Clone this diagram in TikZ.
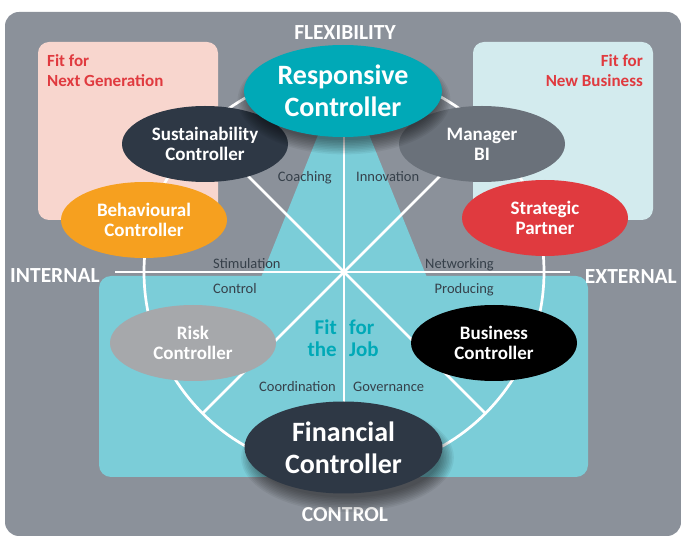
\documentclass[tikz,border=0pt]{standalone}
\usepackage{fontspec}
\setmainfont{Carlito}
\usetikzlibrary{calc,shapes.geometric}
\definecolor{panel}{HTML}{8B919A}
\definecolor{nextgen}{HTML}{F8D6CE}
\definecolor{newbiz}{HTML}{D3EBEE}
\definecolor{jobfit}{HTML}{7BCDD8}
\definecolor{teal}{HTML}{00A9B7}
\definecolor{navy}{HTML}{2E3845}
\definecolor{slate}{HTML}{6A717A}
\definecolor{amber}{HTML}{F6A01F}
\definecolor{crimson}{HTML}{E03A3F}
\definecolor{silver}{HTML}{A6A8AB}
\definecolor{ink}{HTML}{36404A}

\begin{document}
\begin{tikzpicture}[x=1pt,y=-1pt,
     ctl/.style={ellipse,minimum width=166pt,minimum height=76pt,inner sep=0pt,align=center,text=white,
       font=\fontsize{19}{20}\selectfont\bfseries},
     big/.style={ctl,minimum width=198pt,minimum height=92pt,font=\fontsize{28}{32}\selectfont\bfseries},
     lbl/.style={text=ink,inner sep=0pt,font=\fontsize{14.5}{16}\selectfont},
     axis/.style={text=white,inner sep=0pt,font=\fontsize{21.5}{22}\selectfont\bfseries},
     fitfor/.style={text=crimson,inner sep=0pt,font=\fontsize{17}{18}\selectfont\bfseries},
     job/.style={text=teal,inner sep=0pt,font=\fontsize{21}{22}\selectfont\bfseries},
     spoke/.style={draw=white,line width=2.7pt}]
  \useasboundingbox (0,0) rectangle (681,537);

  % panels
  \fill[panel,rounded corners=14pt] (5,12) rectangle (681,536);
  \fill[nextgen,rounded corners=11pt] (38,42) rectangle (218,220);
  \fill[newbiz,rounded corners=11pt] (473,42) rectangle (653,220);
  \fill[jobfit,rounded corners=12pt] (99,276) rectangle (588,477);
  \fill[jobfit] (332,100) -- (355,100) -- (428,280) -- (260,280) -- cycle;

  % wheel
  \coordinate (o) at (344,272);
  \foreach \a in {45,90,135,225,270,315}
    \coordinate (r\a) at ($(o)+(\a:200)$);
  \coordinate (w) at (115,272);
  \coordinate (e) at (570,272);
  \draw[spoke] (o) circle[radius=200];
  \draw[spoke] (w) -- (e);
  \draw[spoke] (r90) -- (r270);
  \draw[spoke] (r45) -- (r225);
  \draw[spoke] (r135) -- (r315);

  % roles between the spokes
  \node[lbl,anchor=base east] (coach) at (332,182) {Coaching};
  \node[lbl,anchor=base west] (innov) at (356,182) {Innovation};
  \node[lbl,anchor=base west] (stim) at (213,269) {Stimulation};
  \node[lbl,anchor=base east] (netw) at (494,269) {Networking};
  \node[lbl,anchor=base west] (contr) at (213,294) {Control};
  \node[lbl,anchor=base east] (prod) at (494,294) {Producing};
  \node[lbl,anchor=base east] (coord) at (336,392) {Coordination};
  \node[lbl,anchor=base west] (gov) at (353,392) {Governance};

  \node[job,anchor=base east] (fit) at (337,335) {Fit};
  \node[job,anchor=base west] (for) at (349,335) {for};
  \node[job,anchor=base east] (the) at (337,357) {the};
  \node[job,anchor=base west] (jb) at (349,357) {Job};

  % corner texts
  \node[fitfor,anchor=base west] (ng1) at (47,67) {Fit for};
  \node[fitfor,anchor=base west] (ng2) at (47,87) {Next Generation};
  \node[fitfor,anchor=base east] (nb1) at (643,67) {Fit for};
  \node[fitfor,anchor=base east] (nb2) at (643,87) {New Business};

  \node[axis,anchor=base] (flex) at (345,40) {FLEXIBILITY};
  \node[axis,anchor=base] (ctrl) at (345,522) {CONTROL};
  \node[axis,anchor=base west] (int) at (10,283) {INTERNAL};
  \node[axis,anchor=base east] (ext) at (677,284) {EXTERNAL};

  % controller types
  \coordinate (rc) at (343,91);
  \coordinate (fc) at (343.5,447.5);
  \node[ctl,fill=navy] (sust) at (205,144) {Sustainability\\Controller};
  \node[ctl,fill=slate] (mbi) at (482,144) {Manager\\BI};
  % soft shadows under the two big ones
  \foreach \k in {0,...,9} {
    \fill[black,opacity=0.055] ($(rc)+(1,9)$) ellipse[x radius=92+1.6*\k, y radius=40+1.6*\k];
  }
  \node[big,fill=teal] (resp) at (rc) {Responsive\\Controller};
  \node[ctl,fill=amber] (behav) at (144,220) {Behavioural\\Controller};
  \node[ctl,fill=crimson] (strat) at (545,218) {Strategic\\Partner};
  \node[ctl,fill=silver] (risk) at (193,343) {Risk\\Controller};
  \node[ctl,fill=black] (bus) at (494,343) {Business\\Controller};
  \foreach \k in {0,...,9} {
    \fill[black,opacity=0.055] ($(fc)+(4,10)$) ellipse[x radius=92+1.6*\k, y radius=40+1.6*\k];
  }
  \node[big,fill=navy] (fin) at (fc) {Financial\\Controller};
\end{tikzpicture}
\end{document}
